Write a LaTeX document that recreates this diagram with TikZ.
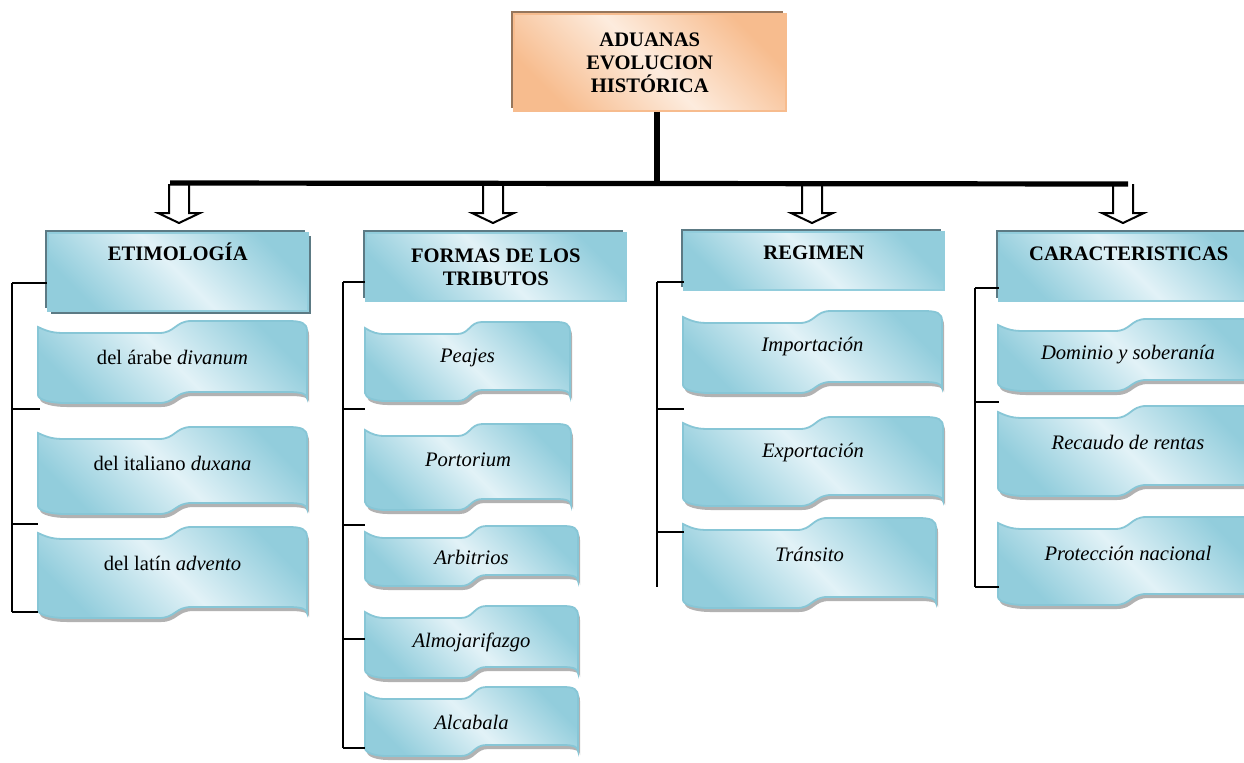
\documentclass[tikz,border=0pt]{standalone}
\usepackage{fontspec}
\setmainfont{Liberation Serif}
\usetikzlibrary{shadows}
\definecolor{hbdark}{RGB}{146,205,220}
\definecolor{hblight}{RGB}{226,242,247}
\definecolor{hbshadow}{RGB}{92,122,132}
\definecolor{wavebd}{RGB}{135,198,214}
\definecolor{peachdark}{RGB}{247,188,142}
\definecolor{peachlight}{RGB}{253,236,222}
\definecolor{peachshadow}{RGB}{150,118,92}
\newcommand{\diagfont}{\fontsize{10.3}{11.5}\selectfont}
% ribbon box: name, x, y, width, height, text
\newcommand{\ribbon}[6]{%
  \draw[wave] (#2,#3) .. controls ({#2+0.04*#4},#3+5) and ({#2+0.06*#4},#3+6) .. ({#2+0.1*#4},#3+6)
    -- ({#2+0.45*#4},#3+6) .. controls ({#2+0.51*#4},#3+6) and ({#2+0.51*#4},#3-6) .. ({#2+0.57*#4},#3-6)
    -- ({#2+0.93*#4},#3-6) .. controls ({#2+0.98*#4},#3-6) and ({#2+#4},#3-4) .. ({#2+#4},#3+4)
    -- ({#2+#4},#3+#5+3) .. controls ({#2+#4},#3+#5-1) and ({#2+0.98*#4},#3+#5-3) .. ({#2+0.93*#4},#3+#5-3)
    -- ({#2+0.57*#4},#3+#5-3) .. controls ({#2+0.51*#4},#3+#5-3) and ({#2+0.51*#4},#3+#5+8) .. ({#2+0.45*#4},#3+#5+8)
    -- ({#2+0.1*#4},#3+#5+8) .. controls ({#2+0.05*#4},#3+#5+8) and (#2,#3+#5+5) .. (#2,#3+#5)
    -- cycle;
  \node[wavetext] (#1) at ({#2+#4/2},{#3+min(30,#5/2+2)}) {#6};
}

\begin{document}
\begin{tikzpicture}[x=0.5pt, y=-0.5pt,
  rootbox/.style={anchor=north west, inner sep=0pt, align=center, font=\diagfont\bfseries,
    top color=peachdark, bottom color=peachdark, middle color=peachlight, shading angle=-45,
    draw=peachdark, line width=0.8pt, minimum width=136pt, minimum height=48.5pt,
    general shadow={fill=peachshadow, shadow xshift=-1.5pt, shadow yshift=1.5pt}},
  header/.style={anchor=north west, inner sep=0pt, align=center, font=\diagfont\bfseries,
    top color=hbdark, bottom color=hbdark, middle color=hblight, shading angle=-45,
    draw=hbdark, line width=0.8pt, minimum width=130pt,
    general shadow={fill=hbshadow, shadow xshift=-1.5pt, shadow yshift=1.5pt}},
  wave/.style={draw=wavebd, line width=0.9pt,
    top color=hbdark, bottom color=hbdark, middle color=hblight, shading angle=-45,
    general shadow={fill=gray!60, shadow xshift=1pt, shadow yshift=-2pt}},
  wavetext/.style={font=\diagfont, inner sep=0pt},
  trunk/.style={line width=2.6pt},
  hollow/.style={line width=1pt, fill=white},
  bracket/.style={line width=0.8pt}
]
\useasboundingbox[fill=white] (0,0) rectangle (1244,762);

% title
\node[rootbox] (root) at (513,13) {ADUANAS\\EVOLUCION\\HISTÓRICA};

% headers
\node[header, text height=14pt, text depth=25pt,
  general shadow={fill=hbshadow, shadow xshift=1.5pt, shadow yshift=-1.5pt}] (etim) at (47,232) {ETIMOLOGÍA};
\node[header, minimum height=34pt] (formas) at (365,232) {FORMAS DE LOS\\TRIBUTOS};
\node[header, text height=14pt, text depth=15pt] (regimen) at (683,231) {REGIMEN};
\node[header, text height=14pt, text depth=20pt] (caract) at (998,232) {CARACTERISTICAS};

% hollow arrows
\foreach \c in {179,493,812,1123}
  \draw[hollow] (\c-10,184) -- (\c-10,213) -- (\c-21,213) -- (\c,223) -- (\c+21,213) -- (\c+10,213) -- (\c+10,184);

% tree
\coordinate (hub) at (657,183);
\coordinate (barL) at (170,183);
\coordinate (barR) at (1128,184);
\draw[trunk] (root.south -| hub) -- (hub);
\draw[trunk] (barL) -- (barR);

% etimologia
\ribbon{arabe}{38}{327}{269}{68}{del árabe \textit{divanum}}
\ribbon{italiano}{38}{433}{269}{73}{del italiano \textit{duxana}}
\ribbon{latin}{38}{533}{269}{77}{del latín \textit{advento}}
\draw[bracket] (12,283) -- (12,612);
\foreach \y/\e in {283/47,409/40,524/38,612/38}
  \draw[bracket] (12,\y) -- (\e,\y);

% formas de los tributos
\ribbon{peajes}{365}{328}{205}{65}{\textit{Peajes}}
\ribbon{portorium}{365}{430}{206}{72}{\textit{Portorium}}
\ribbon{arbitrios}{365}{532}{213}{46}{\textit{Arbitrios}}
\ribbon{almoj}{365}{612}{213}{58}{\textit{Almojarifazgo}}
\ribbon{alcabala}{365}{693}{213}{55}{\textit{Alcabala}}
\draw[bracket] (343,282) -- (343,748);
\foreach \y in {282,409,525,639,748}
  \draw[bracket] (343,\y) -- (365,\y);

% regimen
\ribbon{import}{683}{317}{259}{68}{\textit{Importación}}
\ribbon{export}{683}{423}{260}{75}{\textit{Exportación}}
\ribbon{transito}{683}{524}{253}{76}{\textit{Tránsito}}
\draw[bracket] (657,282) -- (657,587);
\foreach \y in {282,409,532}
  \draw[bracket] (657,\y) -- (684,\y);

% caracteristicas
\ribbon{dominio}{998}{325}{260}{58}{\textit{Dominio y soberanía}}
\ribbon{recaudo}{998}{412}{260}{76}{\textit{Recaudo de rentas}}
\ribbon{proteccion}{998}{523}{260}{74}{\textit{Protección nacional}}
\draw[bracket] (975,288) -- (975,587);
\foreach \y in {288,402,587}
  \draw[bracket] (975,\y) -- (999,\y);
\end{tikzpicture}
\end{document}
